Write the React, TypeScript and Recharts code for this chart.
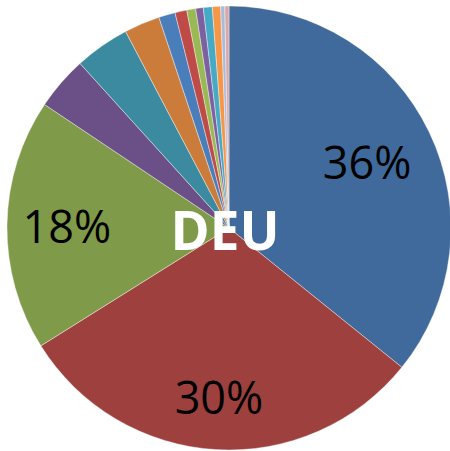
import { PieChart, Pie, Cell, Label } from 'recharts';

const countries = [
    'A', 'B', 'C', 'D', 'E', 'F', 'G', 'H', 'I', 'J', 'K', 'L', 'M', 'N',
];
const shares = [
    35.8, 30.3, 18.3, 3.9, 4.0, 2.6, 1.2, 0.86, 0.65, 0.55, 0.65, 0.6, 0.3, 0.3,
];
const colors = [
    '#3F6A9B', '#9E413E', '#7F9A48', '#6A5086', '#3C8AA0', '#CB7B3A',
    '#4A7EBB', '#BE4B48', '#98B954', '#7D60A0', '#46AAC5', '#F79646',
    '#A9BBDB', '#DCA8A7',
];
const centerLabel = 'DEU';

const data = countries.map((name, i) => ({ name, value: shares[i] }));

const RADIAN = Math.PI / 180;
// label distance from centre, as share of the radius, for the big slices
const labelRadius = [0.69, 0.76, 0.73];

const renderLabel = (props: any) => {
    const { cx, cy, midAngle, percent, outerRadius, index } = props;
    if (percent < 0.1) return null;
    const r = outerRadius * (labelRadius[index] ?? 0.72);
    const x = cx + r * Math.cos(-midAngle * RADIAN);
    const y = cy + r * Math.sin(-midAngle * RADIAN);
    return (
        <text
            x={x}
            y={y}
            fill="#000000"
            textAnchor="middle"
            dominantBaseline="central"
            style={{ fontFamily: '"Open Sans", sans-serif', fontSize: 45 }}
        >
            {`${Math.round(percent * 100)}%`}
        </text>
    );
};

const renderCenter = (props: any) => {
    const vb = props.viewBox || {};
    return (
        <text
            x={(vb.cx ?? 229) - 4}
            y={(vb.cy ?? 228) + 1}
            fill="#ffffff"
            textAnchor="middle"
            dominantBaseline="central"
            style={{ fontFamily: '"Open Sans", sans-serif', fontSize: 53, fontWeight: 700 }}
        >
            {centerLabel}
        </text>
    );
};

export default function App() {
    return (
        <div style={{ position: 'absolute', left: 0, top: 0, width: 450, height: 451, background: '#ffffff' }}>
            <PieChart width={450} height={451} margin={{ top: 0, right: 0, bottom: 0, left: 0 }}>
                <Pie
                    data={data}
                    dataKey="value"
                    cx={229}
                    cy={228}
                    outerRadius={222}
                    startAngle={90}
                    endAngle={-270}
                    stroke="#ffffff"
                    strokeWidth={0.4}
                    labelLine={false}
                    label={renderLabel}
                    isAnimationActive={false}
                >
                    {data.map((_, index) => (
                        <Cell key={`cell-${index}`} fill={colors[index % colors.length]} />
                    ))}
                    <Label position="center" content={renderCenter} />
                </Pie>
            </PieChart>
        </div>
    );
}
